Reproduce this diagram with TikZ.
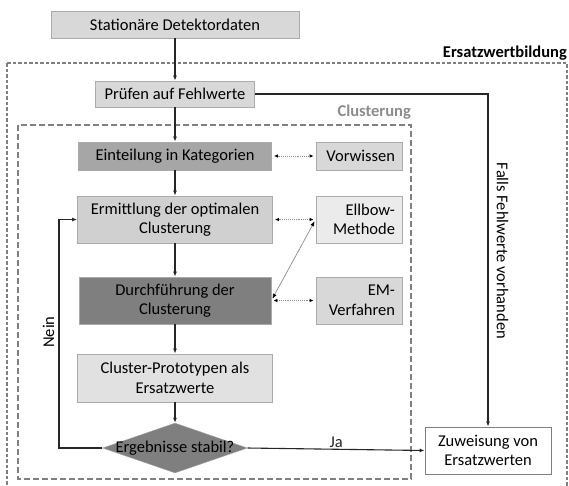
\documentclass[tikz,border=0pt]{standalone}
\usepackage{fontspec}
\setmainfont{Carlito}
\usepackage{xcolor}
\usetikzlibrary{arrows.meta,positioning,shapes.geometric,calc}
\tikzset {
    flow/.style={draw, line width=1.1pt, color=flowcol, -{Latex[length=5pt,width=4pt]}},
    link/.style={draw, densely dotted, line width=0.9pt, color=linkcol,
        {Latex[length=4pt,width=3.5pt,black]}-{Latex[length=4pt,width=3.5pt,black]},
        shorten <=2pt, shorten >=2pt},
    >=Latex
}
\definecolor{flowcol}{HTML}{262626}
\definecolor{linkcol}{HTML}{8C8C8C}
\definecolor{boxline}{HTML}{ABABAB}
\definecolor{framecol}{HTML}{808080}
\definecolor{lightfill}{HTML}{D8D8D8}
\definecolor{midfill}{HTML}{A6A6A6}
\definecolor{softfill}{HTML}{D0D0D0}
\definecolor{palefill}{HTML}{EBEBEB}
\definecolor{darkfill}{HTML}{7F7F7F}
\definecolor{protofill}{HTML}{E1E1E1}
\newcommand{\boxfont}{\fontsize{16.5}{19.5}\selectfont}

\begin{document}
\begin{tikzpicture}[
        x=1pt, y=-1pt,
        every node/.style={font=\boxfont},
        onebox/.style={draw=boxline, line width=0.8pt, inner sep=0pt,
            minimum height=27pt, align=center},
        twobox/.style={draw=boxline, line width=0.8pt, inner sep=0pt,
            minimum height=47pt, align=center},
        sidebox/.style={draw=boxline, line width=0.8pt, inner sep=7pt,
            minimum width=86pt, minimum height=47pt, text width=72pt, align=right},
        decision/.style={draw=boxline, diamond, fill=darkfill, inner sep=0pt,
            minimum width=145pt, minimum height=50pt},
        frametitle/.style={font=\boxfont\bfseries, anchor=base east, inner sep=0pt},
        outerframe/.style={draw=framecol, line width=1.2pt, dash pattern=on 3.5pt off 2pt},
        innerframe/.style={draw=framecol, line width=1.3pt, dash pattern=on 6pt off 3pt},
        diag/.style={draw, line width=0.7pt, color=linkcol,
            {Latex[length=5pt,width=4pt,black]}-{Latex[length=5pt,width=4pt,black]},
            shorten <=2pt, shorten >=2pt},
    ]
    \useasboundingbox (0,0) rectangle (569,485);

    \draw[outerframe] (7,63) rectangle (567,492);
    \draw[innerframe] (18,125) rectangle (411,479);
    \node[frametitle] at (567,57) (ersatz) {Ersatzwertbildung};
    \node[frametitle, text=linkcol] at (411,116) (clust) {Clusterung};

    \node[onebox, fill=lightfill, minimum width=248pt] at (175,24.5) (sd) {Stationäre Detektordaten};
    \node[onebox, fill=lightfill, minimum width=159pt, minimum height=26pt] at (175,94) (pf) {Prüfen auf Fehlwerte};
    \node[onebox, fill=midfill, minimum width=193pt, minimum height=28pt] at (175,156) (ek) {Einteilung in Kategorien};
    \node[twobox, fill=softfill, minimum width=195pt] at (175,219.5) (eo) {Ermittlung der optimalen\\Clusterung};
    \node[twobox, fill=darkfill, minimum width=192pt] at (175,300.5) (dc) {Durchführung der\\Clusterung};
    \node[twobox, fill=protofill, minimum width=195pt, minimum height=48pt] at (175,378) (cp) {Cluster-Prototypen als\\Ersatzwerte};
    \node[decision] at (175,448) (st) {\makebox[0pt]{Ergebnisse stabil?}};

    \node[sidebox, fill=lightfill, minimum height=28pt] at (359,156) (vw) {Vorwissen};
    \node[sidebox, fill=palefill] at (359,219.5) (eb) {Ellbow-\\Methode};
    \node[sidebox, fill=lightfill] at (359,300.5) (ev) {EM-\\Verfahren};

    \node[twobox, fill=white, draw=framecol, minimum width=126pt] at (488,450.5) (zw) {Zuweisung von\\Ersatzwerten};

    \coordinate (back) at (59,448);

    \draw[flow] (sd) -- (pf);
    \draw[flow] (pf) -- (ek);
    \draw[flow] (ek) -- (eo);
    \draw[flow] (eo) -- (dc);
    \draw[flow] (dc) -- (cp);
    \draw[flow] (cp) -- (st);

    \draw[flow] (st.west) -- (back) |- (eo.west);
    \node[rotate=90] at (48.5,332) (nein) {Nein};
    \draw[flow] (st.east) -- node[above, inner sep=1pt] (ja) {Ja} (zw.west);
    \draw[flow] (pf.east) -| (zw.north);
    \node[rotate=-90] at (502.5,251) (falls) {Falls Fehlwerte vorhanden};

    \draw[link] (ek.east) -- (vw.west);
    \draw[link] (eo.east) -- (eb.west);
    \draw[link] (dc.east) -- (ev.west);
    \draw[diag] (dc.east) -- (eb.west);

    \end{tikzpicture}
\end{document}
